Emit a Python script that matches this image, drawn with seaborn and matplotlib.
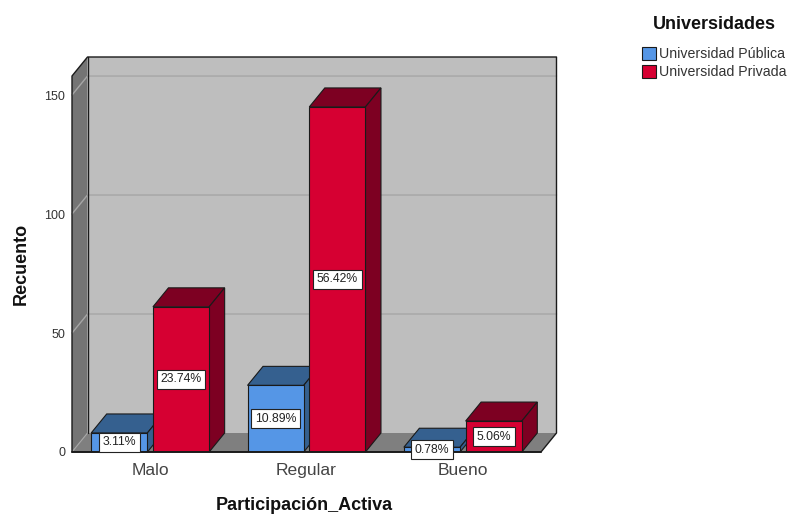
import matplotlib
matplotlib.use('Agg')
import matplotlib.pyplot as plt
from matplotlib.patches import Polygon
import seaborn as sns
import pandas as pd

# values
categories = ['Malo', 'Regular', 'Bueno']
publica = [8, 28, 2]
privada = [61, 145, 13]
pct_publica = ['3.11%', '10.89%', '0.78%']
pct_privada = ['23.74%', '56.42%', '5.06%']
y_ticks = [0, 50, 100, 150]

series_names = ['Universidad Pública', 'Universidad Privada']
front_colors = ['#5596E6', '#D60032']
depth_colors = ['#35608F', '#7D0022']

sns.set_style('white')
plt.rcParams['font.family'] = ['Liberation Sans', 'DejaVu Sans']

data = pd.DataFrame({
    'Participacion': categories * 2,
    'Recuento': publica + privada,
    'Universidades': [series_names[0]] * 3 + [series_names[1]] * 3,
})

W, H = 787, 515
fig = plt.figure(figsize=(W / 100, H / 100), dpi=100)
ax = fig.add_axes([72 / W, (H - 452) / H, 469 / W, 376 / H])

sns.barplot(data=data, x='Participacion', y='Recuento', hue='Universidades',
            palette=front_colors, saturation=1, width=0.79, gap=0.09,
            errorbar=None, edgecolor='#1a1a1a', linewidth=0.8, ax=ax)

x0, x1 = -0.5, 2.5
y0, y1 = 0, 158
ax.set_xlim(x0, x1)
ax.set_ylim(y0, y1)

# 3D depth of the box, in data units
dx = 15.5 / (469 / (x1 - x0))
dy = 19 / (376 / (y1 - y0))

line = '#1a1a1a'
# back wall, left wall, floor
ax.add_patch(Polygon([(x0 + dx, dy), (x1 + dx, dy), (x1 + dx, y1 + dy), (x0 + dx, y1 + dy)],
                     fc='#BEBEBE', ec='none', zorder=0.5, clip_on=False))
ax.add_patch(Polygon([(x0, 0), (x0 + dx, dy), (x0 + dx, y1 + dy), (x0, y1)],
                     fc='#747474', ec='none', zorder=0.6, clip_on=False))
ax.add_patch(Polygon([(x0, 0), (x1, 0), (x1 + dx, dy), (x0 + dx, dy)],
                     fc='#7F7F7F', ec='none', zorder=0.6, clip_on=False))

# gridlines run along the back wall and down the left wall
for v in y_ticks[1:]:
    ax.plot([x0, x0 + dx, x1 + dx], [v, v + dy, v + dy], color='#A6A6A6', lw=1.0,
            zorder=0.7, clip_on=False)
ax.plot([x0, x0 + dx], [0, dy], color='#A6A6A6', lw=0.8, zorder=0.7, clip_on=False)

# box outline, no line where the floor meets the back wall
ax.plot([x0 + dx, x0 + dx], [dy, y1 + dy], color=line, lw=1.0, zorder=0.8, clip_on=False)
ax.plot([x0, x0, x0 + dx, x1 + dx, x1 + dx, x1], [0, y1, y1 + dy, y1 + dy, dy, 0],
        color=line, lw=1.0, zorder=0.8, clip_on=False)
ax.plot([x0, x1], [0, 0], color=line, lw=1.4, zorder=5, clip_on=False)

# top and side faces for every bar
for cont, dark in zip(ax.containers, depth_colors):
    for bar in cont:
        bar.set_zorder(4)
        bl = bar.get_x()
        br = bar.get_x() + bar.get_width()
        h = bar.get_height()
        ax.add_patch(Polygon([(bl, h), (br, h), (br + dx, h + dy), (bl + dx, h + dy)],
                             fc=dark, ec=line, lw=0.8, zorder=3, clip_on=False))
        ax.add_patch(Polygon([(br, 0), (br + dx, dy), (br + dx, h + dy), (br, h)],
                             fc=dark, ec=line, lw=0.8, zorder=3, clip_on=False))

for cont, labels in zip(ax.containers, [pct_publica, pct_privada]):
    ax.bar_label(cont, labels=labels, label_type='center', fontsize=8.8, color='#222222',
                 zorder=6, bbox=dict(boxstyle='square,pad=0.3', fc='white', ec='#222222', lw=0.8))

sns.despine(ax=ax, left=True, bottom=True, top=True, right=True)
ax.set_yticks(y_ticks)
ax.tick_params(axis='y', length=0, pad=5, labelsize=9, labelcolor='#333333')
ax.tick_params(axis='x', length=0, pad=8, labelsize=12.6, labelcolor='#444444')
ax.set_xlabel('Participación_Activa', fontweight='bold', fontsize=13, color='#111111')
ax.set_ylabel('Recuento', fontweight='bold', fontsize=13, color='#111111')
ax.xaxis.set_label_coords(0.4955, -0.12)
ax.yaxis.set_label_coords(-0.09, 0.5)

handles, labels = ax.get_legend_handles_labels()
leg = ax.legend(handles, labels, title='Universidades', loc='upper left',
                bbox_to_anchor=(642 / W, 1 - 16 / H), bbox_transform=fig.transFigure,
                frameon=False, fontsize=10.2, handlelength=1.0, handleheight=1.0,
                handletextpad=0.2, labelspacing=0.27, borderaxespad=0, borderpad=0,
                title_fontproperties={'weight': 'bold', 'size': 13})
leg._legend_box.sep = 10
leg.get_title().set_color('#111111')
for t in leg.get_texts():
    t.set_color('#333333')

fig.savefig('out.png', dpi=100)
